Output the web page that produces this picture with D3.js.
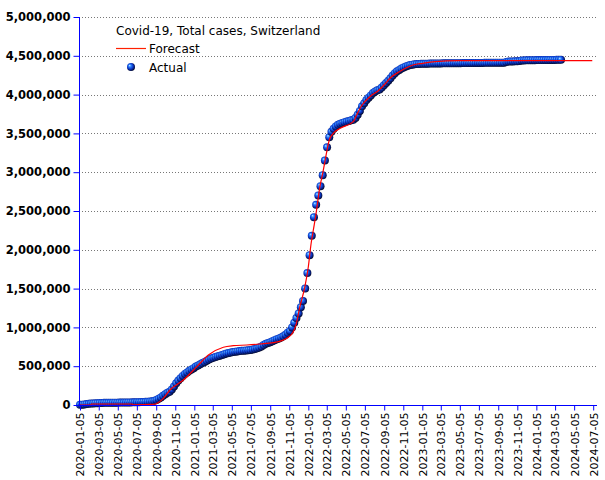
<!DOCTYPE html>
<html><head><meta charset="utf-8">
<script src="https://cdn.jsdelivr.net/npm/d3@7/dist/d3.min.js"></script>
<style>body{margin:0;background:#fff}svg{display:block}</style>
</head><body><svg id="c" width="605" height="480"></svg>
<script>
// ---- data ----
const chartTitle = "Covid-19, Total cases, Switzerland";
const legendForecast = "Forecast";
const legendActual = "Actual";
// Actual total cases (thousands), one value per week starting at actualStart
const actualStart = "2020-01-05";
const actualThousands = [
  2,4,8,12,15,18,20,22,24,26,
  27,28,28,29,29,30,30,30,31,31,
  31,32,32,33,34,35,36,37,38,40,
  41,43,45,48,55,65,80,98,118,140,
  158,170,200,240,280,315,345,375,400,420,
  440,458,475,495,510,525,540,555,570,585,
  598,608,618,627,636,645,655,664,670,676,
  682,687,691,695,698,700,703,706,710,715,
  722,730,740,755,772,788,800,810,822,835,
  848,858,870,885,905,930,955,1000,1060,1120,
  1180,1260,1340,1500,1700,1930,2180,2420,2580,2700,
  2820,2960,3150,3320,3450,3520,3560,3590,3610,3625,
  3635,3645,3652,3660,3668,3675,3700,3740,3790,3850,
  3890,3930,3960,3990,4020,4040,4055,4065,4090,4120,
  4150,4180,4210,4245,4275,4300,4318,4335,4350,4362,
  4372,4380,4386,4390,4393,4395,4396,4397,4398,4399,
  4400,4400,4401,4401,4402,4402,4403,4403,4403,4404,
  4404,4404,4405,4405,4405,4406,4406,4406,4407,4407,
  4407,4408,4408,4408,4408,4409,4409,4409,4410,4410,
  4410,4411,4411,4412,4412,4420,4425,4427,4428,4429,
  4430,4432,4440,4441,4442,4443,4443,4444,4444,4445,
  4445,4445,4446,4446,4446,4447,4447,4447,4448,4448,4448
];
// Forecast (thousands)
const forecastDates = [
  "2020-01-05","2020-02-08","2020-02-11","2020-06-20","2020-06-23","2020-08-27",
  "2020-09-28","2020-10-19","2020-12-01","2021-01-13","2021-02-19","2021-04-08",
  "2021-05-10","2021-06-22","2021-08-03","2021-09-15","2021-10-28","2021-11-18",
  "2021-11-27","2021-12-09","2021-12-25","2022-01-05","2022-01-14","2022-01-21",
  "2022-01-29","2022-02-04","2022-02-11","2022-02-20","2022-02-28","2022-03-07",
  "2022-03-13","2022-03-26","2022-04-17","2022-05-29","2022-06-09","2022-06-25",
  "2022-07-22","2022-08-17","2022-09-08","2022-09-24","2022-10-26","2022-12-06",
  "2023-01-07","2023-02-15","2023-04-29","2024-07-02"
];
const forecastThousands = [
  0,0,13,13,2,8,
  86,193,322,494,644,744,
  764,773,786,803,860,945,
  1040,1267,1525,1782,2084,2255,
  2448,2620,2813,2985,3157,3308,
  3415,3501,3566,3651,3740,3860,
  3975,4050,4140,4214,4300,4381,
  4403,4424,4437,4437
];
const yTickValues = [0,500000,1000000,1500000,2000000,2500000,3000000,3500000,4000000,4500000,5000000];
const xTickLabels = [
  "2020-01-05","2020-03-05","2020-05-05","2020-07-05","2020-09-05","2020-11-05",
  "2021-01-05","2021-03-05","2021-05-05","2021-07-05","2021-09-05","2021-11-05",
  "2022-01-05","2022-03-05","2022-05-05","2022-07-05","2022-09-05","2022-11-05",
  "2023-01-05","2023-03-05","2023-05-05","2023-07-05","2023-09-05","2023-11-05",
  "2024-01-05","2024-03-05","2024-05-05","2024-07-05"
];

// ---- chart ----
const parse = d3.utcParse("%Y-%m-%d");
const svg = d3.select("#c");
const L = 79, R = 597, T = 17, B = 405;
const x = d3.scaleUtc().domain([parse(xTickLabels[0]), parse(xTickLabels[xTickLabels.length-1])]).range([80, 593.2]);
const y = d3.scaleLinear().domain([0, 5000000]).range([B, T]);

const t0 = parse(actualStart);
const actual = actualThousands.map((v,i)=>({date:d3.utcDay.offset(t0, 7*i), value:v*1000}));
const forecast = forecastDates.map((d,i)=>({date:parse(d), value:forecastThousands[i]*1000}));

const defs = svg.append("defs");
const g = defs.append("radialGradient").attr("id","ball").attr("cx","0.45").attr("cy","0.45").attr("r","0.6").attr("fx","0.32").attr("fy","0.3");
g.append("stop").attr("offset","0%").attr("stop-color","#c8ecff");
g.append("stop").attr("offset","25%").attr("stop-color","#2f86ff");
g.append("stop").attr("offset","60%").attr("stop-color","#0a36c8");
g.append("stop").attr("offset","100%").attr("stop-color","#000018");

// gridlines
svg.append("g").selectAll("line").data(yTickValues.filter(v=>v>0)).join("line")
  .attr("x1", L).attr("x2", R).attr("y1", d=>Math.round(y(d))+0.5).attr("y2", d=>Math.round(y(d))+0.5)
  .attr("stroke","#777").attr("stroke-width",1).attr("stroke-dasharray","1,2");

// points
svg.append("g").selectAll("circle").data(actual).join("circle")
  .attr("cx", d=>x(d.date)).attr("cy", d=>y(d.value)).attr("r",4)
  .attr("fill","url(#ball)");

// forecast line
svg.append("path").datum(forecast)
  .attr("d", d3.line().x(d=>x(d.date)).y(d=>y(d.value)).curve(d3.curveMonotoneX))
  .attr("fill","none").attr("stroke","#ff0000").attr("stroke-width",1.2);

// y axis
const yAxis = d3.axisLeft(y).tickValues(yTickValues).tickFormat(d3.format(",")).tickSize(6).tickSizeOuter(0).tickPadding(3);
const ya = svg.append("g").attr("transform",`translate(${L+0.5},0)`).call(yAxis);
ya.select(".domain").remove();
ya.selectAll(".tick line").attr("stroke","#0000ff");
ya.selectAll(".tick text").attr("fill","#000").style("font-family","DejaVu Sans").style("font-size","11.5px").style("font-weight","bold");
svg.append("line").attr("x1",L+0.5).attr("x2",L+0.5).attr("y1",T).attr("y2",B).attr("stroke","#0000ff");

// x axis
const xAxis = d3.axisBottom(x).tickValues(xTickLabels.map(parse)).tickFormat(d3.utcFormat("%Y-%m-%d")).tickSize(5).tickSizeOuter(0);
const xa = svg.append("g").attr("transform",`translate(0,${B+0.5})`).call(xAxis);
xa.select(".domain").remove();
xa.selectAll(".tick line").attr("stroke","#0000ff");
xa.selectAll(".tick text").attr("fill","#000").style("font-family","DejaVu Sans").style("font-size","11px")
  .attr("transform","rotate(-90)").attr("text-anchor","end").attr("x",-7).attr("y",0).attr("dy","0.35em");
svg.append("line").attr("x1",L).attr("x2",R).attr("y1",B+0.5).attr("y2",B+0.5).attr("stroke","#0000ff");

// legend
const lg = svg.append("g").style("font-family","DejaVu Sans").style("font-size","12px");
lg.append("text").attr("x",116).attr("y",35).text(chartTitle);
lg.append("line").attr("x1",116).attr("x2",146).attr("y1",48.5).attr("y2",48.5).attr("stroke","#ff2000").attr("stroke-width",1.2);
lg.append("text").attr("x",149).attr("y",53).text(legendForecast);
lg.append("circle").attr("cx",131).attr("cy",67).attr("r",4).attr("fill","url(#ball)");
lg.append("text").attr("x",149).attr("y",72).text(legendActual);
</script>
</body></html>
